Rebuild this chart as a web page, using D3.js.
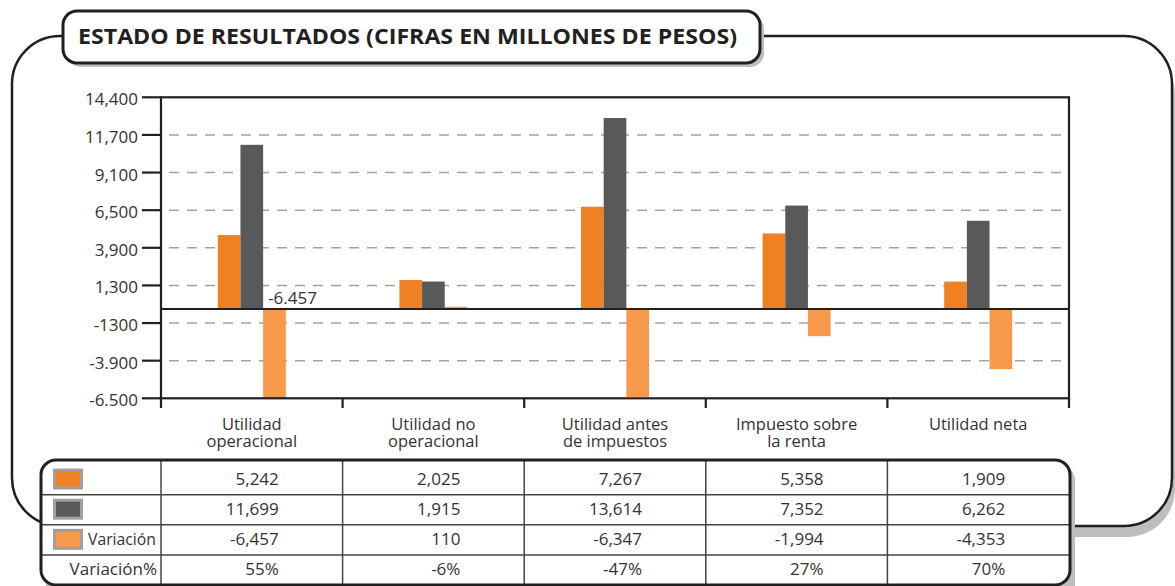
<!DOCTYPE html>
<html>
<head>
<meta charset="utf-8">
<script src="https://cdn.jsdelivr.net/npm/d3@7"></script>
<style>
    html, body { margin: 0; padding: 0; background: #fff; }
    svg { display: block; font-family: "Open Sans", "DejaVu Sans", sans-serif; }
</style>
</head>
<body>
<div id="chart"></div>
<script>
// Data (millones de pesos)
const categories = ['Utilidad operacional', 'Utilidad no operacional', 'Utilidad antes de impuestos', 'Impuesto sobre la renta', 'Utilidad neta'];
const categoryLines = [['Utilidad', 'operacional'], ['Utilidad no', 'operacional'], ['Utilidad antes', 'de impuestos'], ['Impuesto sobre', 'la renta'], ['Utilidad neta']];
const seriesA = [5242, 2025, 7267, 5358, 1909];
const seriesB = [11699, 1915, 13614, 7352, 6262];
const variacion = [-6457, 110, -6347, -1994, -4353];
const variacionPct = ['55%', '-6%', '-47%', '27%', '70%'];
const yTickLabels = ['14,400', '11,700', '9,100', '6,500', '3,900', '1,300', '-1300', '-3.900', '-6.500'];
const barLabel = { category: 'Utilidad operacional', series: 'var', text: '-6.457' };

const seriesKeys = ['a', 'b', 'var'];
const colors = { a: '#f08123', b: '#58595b', var: '#f7994b' };

const W = 1175, H = 586;
const ink = '#231f20', txt = '#333';
const plot = { left: 161, right: 1069, top: 97.3, bottom: 398.3 };

const svg = d3.select('#chart').append('svg').attr('width', W).attr('height', H);

// ---- outer frame with shadow
function roundRect(x0, y0, x1, y1, r) {
    const p = d3.path();
    p.moveTo(x0 + r, y0);
    p.lineTo(x1 - r, y0);
    p.arcTo(x1, y0, x1, y0 + r, r);
    p.lineTo(x1, y1 - r);
    p.arcTo(x1, y1, x1 - r, y1, r);
    p.lineTo(x0 + r, y1);
    p.arcTo(x0, y1, x0, y1 - r, r);
    p.lineTo(x0, y0 + r);
    p.arcTo(x0, y0, x0 + r, y0, r);
    p.closePath();
    return p.toString();
}

svg.append('clipPath').attr('id', 'shadowClip')
    .append('rect').attr('x', 600).attr('y', 0).attr('width', W).attr('height', H);

svg.append('path')
    .attr('d', roundRect(15, 47, 1175, 537, 48))
    .attr('fill', '#bcbec0')
    .attr('clip-path', 'url(#shadowClip)');
svg.append('path')
    .attr('d', roundRect(12, 36, 1172, 526, 48))
    .attr('fill', '#fff').attr('stroke', ink).attr('stroke-width', 2.5);

// ---- title box
svg.append('rect').attr('x', 67).attr('y', 15).attr('width', 697).attr('height', 52).attr('rx', 14)
    .attr('fill', '#bcbec0');
svg.append('rect').attr('x', 63).attr('y', 11).attr('width', 697).attr('height', 52).attr('rx', 14)
    .attr('fill', '#fff').attr('stroke', ink).attr('stroke-width', 3);
svg.append('text')
    .attr('x', 78).attr('y', 44)
    .attr('font-size', 21.5).attr('font-weight', 700).attr('fill', ink)
    .attr('textLength', 659).attr('lengthAdjust', 'spacingAndGlyphs')
    .text('ESTADO DE RESULTADOS (CIFRAS EN MILLONES DE PESOS)');

// ---- scales
const x0 = d3.scaleBand().domain(categories).range([plot.left, plot.right]).paddingInner(0).paddingOuter(0);
const groupW = 68;
const x1 = d3.scaleBand().domain(seriesKeys).range([0, groupW]);
const y = d3.scaleLinear().domain([-6440, 15100]).range([plot.bottom, plot.top]).clamp(true);
const yTick = d3.scalePoint().domain(yTickLabels).range([plot.top, plot.bottom]);

const chart = svg.append('g');

// dashed grid lines (inner ticks)
chart.selectAll('line.grid')
    .data(yTickLabels.slice(1, -1))
    .join('line')
    .attr('class', 'grid')
    .attr('x1', plot.left + 8).attr('x2', plot.right)
    .attr('y1', d => yTick(d)).attr('y2', d => yTick(d))
    .attr('stroke', '#a3a3a3').attr('stroke-width', 1.6)
    .attr('stroke-dasharray', '10 8');

// bars
const rows = categories.map((c, i) => ({ category: c, a: seriesA[i], b: seriesB[i], var: variacion[i] }));
const groups = chart.selectAll('g.group')
    .data(rows)
    .join('g')
    .attr('class', 'group')
    .attr('transform', d => `translate(${x0(d.category) + (x0.bandwidth() - groupW) / 2},0)`);

groups.selectAll('rect')
    .data(d => seriesKeys.map(k => ({ key: k, value: d[k] })))
    .join('rect')
    .attr('x', d => x1(d.key))
    .attr('width', x1.bandwidth())
    .attr('y', d => Math.min(y(d.value), y(0)))
    .attr('height', d => Math.abs(y(d.value) - y(0)))
    .attr('fill', d => colors[d.key]);

// value label
chart.append('text')
    .attr('x', x0(barLabel.category) + (x0.bandwidth() - groupW) / 2 + x1(barLabel.series) + 5)
    .attr('y', y(0) - 4)
    .attr('font-size', 17).attr('fill', txt)
    .text(barLabel.text);

// zero line
chart.append('line')
    .attr('x1', plot.left).attr('x2', plot.right)
    .attr('y1', y(0) + 0.6).attr('y2', y(0) + 0.6)
    .attr('stroke', ink).attr('stroke-width', 2);

// plot frame
chart.append('rect')
    .attr('x', plot.left).attr('y', plot.top)
    .attr('width', plot.right - plot.left).attr('height', plot.bottom - plot.top)
    .attr('fill', 'none').attr('stroke', ink).attr('stroke-width', 2.2);

// y axis ticks + labels
chart.selectAll('line.ytick')
    .data(yTickLabels)
    .join('line')
    .attr('class', 'ytick')
    .attr('x1', 142).attr('x2', plot.left)
    .attr('y1', d => yTick(d)).attr('y2', d => yTick(d))
    .attr('stroke', ink).attr('stroke-width', 2.2);

chart.selectAll('text.ylab')
    .data(yTickLabels)
    .join('text')
    .attr('class', 'ylab')
    .attr('x', 138).attr('y', d => yTick(d) + 8)
    .attr('text-anchor', 'end')
    .attr('font-size', 17).attr('fill', txt)
    .text(d => d);

// x axis ticks at band edges
const edges = categories.map(c => x0(c)).concat([plot.right]);
chart.selectAll('line.xtick')
    .data(edges)
    .join('line')
    .attr('class', 'xtick')
    .attr('x1', d => d).attr('x2', d => d)
    .attr('y1', plot.bottom).attr('y2', 408)
    .attr('stroke', ink).attr('stroke-width', 2.2);

// category labels
const catText = chart.selectAll('text.cat')
    .data(categories)
    .join('text')
    .attr('class', 'cat')
    .attr('text-anchor', 'middle')
    .attr('font-size', 16.5).attr('fill', txt);
catText.selectAll('tspan')
    .data((d, i) => categoryLines[i].map(line => ({ line, cx: x0(d) + x0.bandwidth() / 2 })))
    .join('tspan')
    .attr('x', d => d.cx)
    .attr('y', (d, i) => 430 + i * 17)
    .text(d => d.line);

// ---- data table
const table = { left: 41, right: 1070, top: 460, bottom: 585 };
const rowKeys = ['a', 'b', 'var', 'pct'];
const rowY = d3.scaleBand().domain(rowKeys).range([464.5, table.bottom]);

const tbl = svg.append('g');
tbl.append('rect')
    .attr('x', table.left + 5).attr('y', table.top + 5)
    .attr('width', table.right - table.left).attr('height', table.bottom - table.top + 10)
    .attr('rx', 15).attr('fill', '#bcbec0');
tbl.append('rect')
    .attr('x', table.left).attr('y', table.top)
    .attr('width', table.right - table.left).attr('height', table.bottom - table.top)
    .attr('rx', 15).attr('fill', '#fff');

// row separators
tbl.selectAll('line.hrow')
    .data(rowKeys.slice(1))
    .join('line')
    .attr('class', 'hrow')
    .attr('x1', table.left).attr('x2', table.right)
    .attr('y1', d => rowY(d)).attr('y2', d => rowY(d))
    .attr('stroke', '#444').attr('stroke-width', 1.5);

// column separators
tbl.selectAll('line.vcol')
    .data(categories)
    .join('line')
    .attr('class', 'vcol')
    .attr('x1', d => x0(d)).attr('x2', d => x0(d))
    .attr('y1', table.top).attr('y2', table.bottom)
    .attr('stroke', '#444').attr('stroke-width', 1.5);

tbl.append('rect')
    .attr('x', table.left).attr('y', table.top)
    .attr('width', table.right - table.left).attr('height', table.bottom - table.top)
    .attr('rx', 15).attr('fill', 'none').attr('stroke', ink).attr('stroke-width', 3);

// legend swatches
tbl.selectAll('rect.swatch')
    .data(seriesKeys)
    .join('rect')
    .attr('class', 'swatch')
    .attr('x', 54.5).attr('width', 27)
    .attr('y', d => rowY(d) + rowY.bandwidth() / 2 - 9.5)
    .attr('height', 18)
    .attr('fill', d => colors[d])
    .attr('stroke', '#9d9fa2').attr('stroke-width', 3);

tbl.append('text')
    .attr('x', 88).attr('y', rowY('var') + rowY.bandwidth() - 10)
    .attr('font-size', 17).attr('fill', txt)
    .attr('textLength', 68).attr('lengthAdjust', 'spacingAndGlyphs')
    .text('Variación');
tbl.append('text')
    .attr('x', 157).attr('y', rowY('pct') + rowY.bandwidth() - 10)
    .attr('text-anchor', 'end')
    .attr('font-size', 17).attr('fill', txt)
    .text('Variación%');

const fmt = v => d3.format(',')(v).replace('\u2212', '-');
const rowValues = {
    a: seriesA.map(fmt),
    b: seriesB.map(fmt),
    var: variacion.map(fmt),
    pct: variacionPct,
};
rowKeys.forEach(k => {
    tbl.selectAll(null)
        .data(rowValues[k])
        .join('text')
        .attr('x', (d, i) => x0(categories[i]) + x0.bandwidth() / 2 + 27)
        .attr('y', rowY(k) + rowY.bandwidth() - 10)
        .attr('text-anchor', 'end')
        .attr('font-size', 17).attr('fill', txt)
        .text(d => d);
});
</script>
</body>
</html>
